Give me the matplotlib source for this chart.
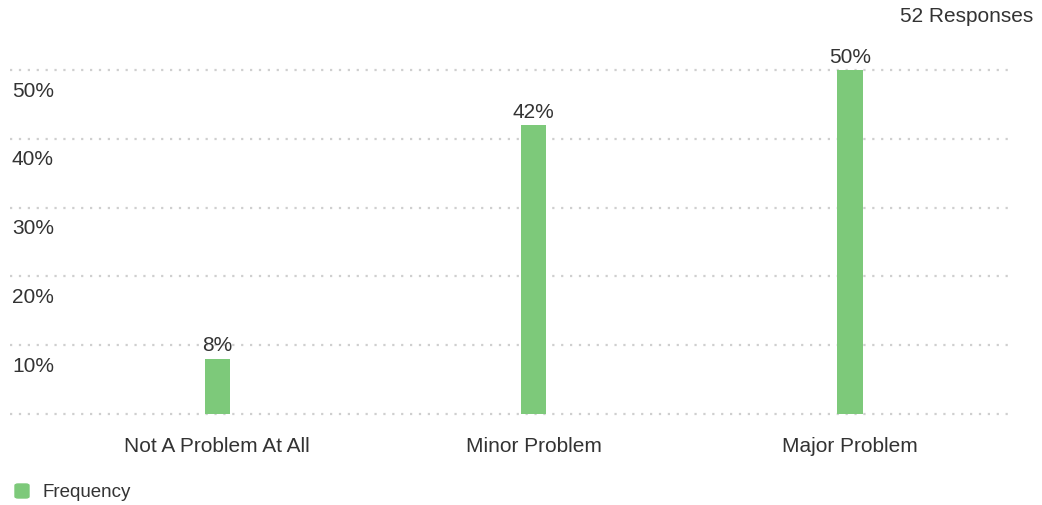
import matplotlib.pyplot as plt
from matplotlib.patches import FancyBboxPatch
from matplotlib.transforms import blended_transform_factory, offset_copy

plt.rcParams["font.family"] = ["Liberation Sans", "DejaVu Sans"]

categories = ["Not A Problem At All", "Minor Problem", "Major Problem"]
percent = [8, 42, 50]
grid_values = [0, 10, 20, 30, 40, 50]
tick_labels = ["10%", "20%", "30%", "40%", "50%"]
responses = 52
legend_label = "Frequency"

bar_color = "#7dc97a"
text_color = "#333333"

fig = plt.figure(figsize=(10.42, 5.06), dpi=100)
ax = fig.add_axes([10 / 1042, 91 / 506, 1000 / 1042, 344 / 506])

x = list(range(len(categories)))
ax.bar(x, percent, width=0.08, color=bar_color, zorder=3)
ax.set_xlim(-0.655, 2.506)
ax.set_ylim(0, 50)

# dotted horizontal guides
for v in grid_values:
    ax.axhline(v, color="#cfcfcf", lw=1.6, ls=(0, (1, 3)), zorder=1,
               clip_on=False)

for s in ax.spines.values():
    s.set_visible(False)
ax.set_xticks([])
ax.set_yticks([])

# y labels sit just under their guide line
trans = blended_transform_factory(ax.transAxes, ax.transData)
for v, lab in zip(grid_values[1:], tick_labels):
    ax.text(0.002, v, lab, transform=offset_copy(trans, fig, y=-20, units="dots"),
            ha="left", va="center", fontsize=15, color=text_color)

# value labels on top of the bars
for xi, p in zip(x, percent):
    ax.annotate(f"{p}%", (xi, p), xytext=(0, 14), textcoords="offset pixels",
                ha="center", va="center", fontsize=15, color=text_color)

# category names under the axis
for xi, c in zip(x, categories):
    ax.annotate(c, (xi, 0), xytext=(0, -32), textcoords="offset pixels",
                ha="center", va="center", fontsize=15, color=text_color,
                annotation_clip=False)

fig.text(1033 / 1042, 1 - 17 / 506, f"{responses} Responses", ha="right",
         va="center", fontsize=15, color=text_color)

# legend
fig.patches.append(FancyBboxPatch((15 / 1042, 1 - 499 / 506), 14 / 1042, 14 / 506,
                                  boxstyle="round,pad=0,rounding_size=0.003",
                                  transform=fig.transFigure, color=bar_color))
fig.text(43 / 1042, 1 - 493 / 506, legend_label, ha="left", va="center",
         fontsize=13.5, color=text_color)

fig.savefig("out.png", dpi=100)
